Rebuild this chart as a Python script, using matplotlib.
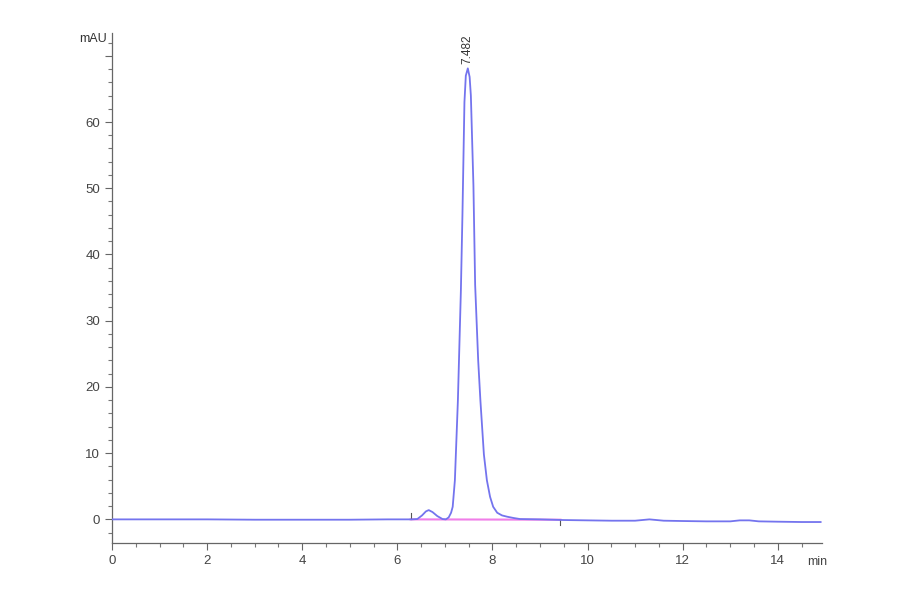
import matplotlib.pyplot as plt
from matplotlib.ticker import MultipleLocator, FixedLocator

plt.rcParams['font.family'] = ['Liberation Sans', 'DejaVu Sans']

# Chromatogram trace (time in min, signal in mAU)
time_min = [0.0, 1.0, 2.0, 3.0, 4.0, 5.0, 5.8, 6.3, 6.42, 6.52, 6.6, 6.66, 6.74, 6.84,
            6.95, 7.02, 7.08, 7.13, 7.164, 7.21, 7.273, 7.336, 7.369, 7.411, 7.44,
            7.482, 7.52, 7.546, 7.60, 7.636, 7.70, 7.747, 7.82, 7.883, 7.95, 8.015,
            8.10, 8.20, 8.31, 8.45, 8.58, 9.0, 9.5, 10.0, 10.5, 11.0, 11.3, 11.6,
            12.0, 12.5, 13.0, 13.2, 13.4, 13.6, 14.0, 14.5, 14.9]
signal_mau = [0.0, 0.0, 0.0, -0.05, -0.05, -0.05, 0.0, 0.0, 0.05, 0.6, 1.2, 1.4, 1.1, 0.5,
              0.05, 0.0, 0.3, 1.0, 1.9, 5.9, 17.9, 34.5, 46.0, 63.0, 67.0,
              68.1, 66.8, 64.0, 50.4, 35.4, 24.0, 17.9, 9.8, 5.9, 3.4, 1.9,
              1.0, 0.6, 0.4, 0.2, 0.05, 0.0, -0.1, -0.15, -0.2, -0.2, 0.0, -0.2,
              -0.25, -0.3, -0.3, -0.15, -0.15, -0.3, -0.35, -0.4, -0.4]

# Integration baseline for the main peak
baseline_t = [6.28, 9.43]
baseline_y = [0.0, -0.05]

peak_time = 7.482
peak_height = 68.1
peak_label = '7.482'

y_labels = ['0', '10', '20', '30', '40', '50', '60', '']

fig = plt.figure(figsize=(9, 5.94), dpi=100)
ax = fig.add_axes([0.1244, 0.0855, 0.789, 0.8585])

ax.plot(baseline_t, baseline_y, color='#f07ee8', lw=1.5, zorder=2)
ax.plot(time_min, signal_mau, color='#7474ee', lw=1.3, zorder=3)

# small marks at the ends of the integration baseline
ax.plot([baseline_t[0], baseline_t[0]], [0.0, 0.9], color='#555555', lw=0.8)
ax.plot([baseline_t[1], baseline_t[1]], [-0.05, -0.9], color='#555555', lw=0.8)

ax.text(peak_time, peak_height + 0.6, peak_label, rotation=90, ha='center', va='bottom',
        fontsize=8.5, color='#333333')

ax.set_xlim(0, 14.93)
ax.set_ylim(-3.6, 73.4)

ax.xaxis.set_major_locator(MultipleLocator(2))
ax.xaxis.set_minor_locator(MultipleLocator(0.5))
ax.yaxis.set_major_locator(FixedLocator(range(0, 80, 10)))
ax.set_yticklabels(y_labels)
ax.yaxis.set_minor_locator(MultipleLocator(2))

for side in ['top', 'right']:
    ax.spines[side].set_visible(False)
for side in ['left', 'bottom']:
    ax.spines[side].set_color('#666666')
    ax.spines[side].set_linewidth(0.9)

ax.tick_params(which='major', length=5, width=0.8, color='#666666', labelsize=9.5,
               labelcolor='#444444')
ax.tick_params(which='minor', length=3, width=0.8, color='#777777')

fig.text(0.088, 0.935, 'mAU', fontsize=9, color='#333333', ha='left', va='center')
fig.text(0.897, 0.054, 'min', fontsize=9, color='#444444', ha='left', va='center')

fig.savefig('out.png', dpi=100)
